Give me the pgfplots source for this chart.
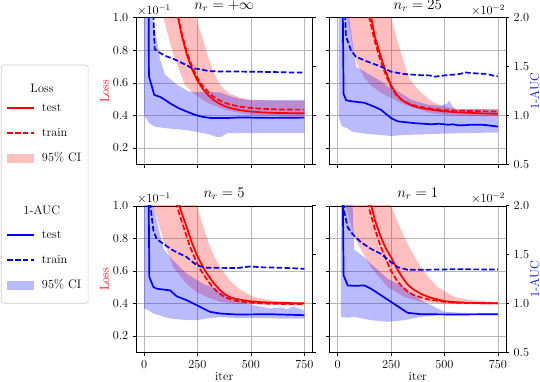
\RequirePackage{fix-cm}
\documentclass[border=0pt]{standalone}
\usepackage{pgfplots}
\pgfplotsset{compat=1.18}
\usepgfplotslibrary{fillbetween}
\definecolor{mred}{HTML}{FF0000}
\definecolor{mblue}{HTML}{0000FF}
\pgfplotsset{
  base/.style={scale only axis, width=176.3pt, height=146.5pt, anchor=south west,
    xmin=-37.5, xmax=787.5, xtick={0,250,500,750},
    tick align=outside, major tick length=3.5pt,
    tick style={black, line width=0.6pt}, axis line style={line width=0.6pt},
    yticklabel style={/pgf/number format/.cd, fixed, fixed zerofill, precision=1}},
  prim/.style={base, ymin=0.1, ymax=1.0, ytick={0.2,0.4,0.6,0.8,1.0},
    xtick pos=left, ytick pos=left, grid=major,
    grid style={line width=0.6pt, color=black!28},
    title style={font=\fontsize{14.8}{17}\selectfont, anchor=base, inner sep=0pt, yshift=2.4pt}},
  sec/.style={base, ymin=0.5, ymax=2.0, ytick={0.5,1.0,1.5,2.0},
    axis y line*=right, axis x line=none},
  lossl/.style={ylabel={Loss}, ylabel style={mred, at={(axis description cs:-0.178,0.5)}, anchor=center}},
  aucl/.style={ylabel={1-AUC}, ylabel style={mblue, at={(axis description cs:1.163,0.5)}, anchor=center}},
  xl/.style={xlabel={iter}, xlabel style={at={(axis description cs:0.5,0)}, anchor=base, inner sep=0pt, yshift=-28.6pt}},
  sc1/.style={extra description/.code={\node[anchor=base west, inner sep=0pt, xshift=0.8pt, yshift=3.3pt] at (0,1) {$\times10^{-1}$};}},
  sc2/.style={extra description/.code={\node[anchor=base east, inner sep=0pt, xshift=-0.8pt, yshift=3.3pt] at (1,1) {$\times10^{-2}$};}},
  rt/.style={mred, line width=1.7pt},
  rd/.style={mred, line width=1.7pt, dash pattern=on 5.5pt off 2.4pt},
  bt/.style={mblue, line width=1.7pt},
  bd/.style={mblue, line width=1.7pt, dash pattern=on 5.5pt off 2.4pt},
  rf/.style={fill=mred, fill opacity=0.25, draw=none},
  bf/.style={fill=mblue, fill opacity=0.27, draw=none},
  line key/.style={legend image code/.code={\draw[##1, sharp corners] (0pt,0pt) -- (27pt,0pt);}},
  patch key/.style={legend image code/.code={\path[##1, sharp corners, draw=none] (0pt,-4.5pt) rectangle (27pt,4.5pt);}},
}
\begin{document}
\fontsize{12.3}{14.8}\selectfont
\begin{tikzpicture}
%%%%%%%%%%%%%%%% Panel 1 : n_r = +inf
\begin{axis}[prim, at={(136pt,217.7pt)}, title={$n_r = +\infty$}, xticklabels={}, lossl, sc1]
\addplot[draw=none, name path=ua] coordinates {(225,1.1) (250,0.97) (275,0.87) (300,0.76) (325,0.67) (350,0.60) (375,0.56) (400,0.535) (450,0.51) (500,0.497) (600,0.49) (750,0.488)};
\addplot[draw=none, name path=la] coordinates {(60,1.2) (91,1.0) (137,0.774) (192,0.585) (239,0.528) (300,0.475) (380,0.435) (450,0.415) (500,0.405) (600,0.398) (750,0.395)};
\addplot[rf] fill between[of=ua and la];
\addplot[rt] coordinates {(125,1.29) (150,1.065) (175,0.899) (200,0.775) (225,0.683) (250,0.614) (275,0.563) (300,0.525) (325,0.496) (350,0.475) (375,0.459) (400,0.447) (450,0.432) (500,0.424) (550,0.419) (600,0.416) (650,0.415) (700,0.414) (750,0.414)};
\addplot[rd] coordinates {(125,1.3) (150,1.07) (175,0.91) (200,0.79) (225,0.70) (250,0.63) (275,0.58) (300,0.545) (325,0.515) (350,0.495) (375,0.48) (400,0.468) (450,0.454) (500,0.446) (550,0.441) (600,0.438) (650,0.437) (700,0.436) (750,0.436)};
\end{axis}
\begin{axis}[sec, at={(136pt,217.7pt)}, yticklabels={}]
\addplot[draw=none, name path=ub] coordinates {(0,4.0) (30,2.1) (67,1.69) (75,1.57) (98,1.42) (150,1.32) (208,1.246) (250,1.24) (300,1.24) (356,1.235) (400,1.2) (450,1.17) (500,1.155) (600,1.16) (750,1.16)};
\addplot[draw=none, name path=lb] coordinates {(0,1.0) (25,0.92) (50,0.886) (100,0.87) (150,0.86) (200,0.85) (250,0.83) (300,0.81) (340,0.78) (360,0.78) (390,0.82) (450,0.82) (500,0.82) (600,0.82) (750,0.82)};
\addplot[bf] fill between[of=ub and lb];
\addplot[bt] coordinates {(20,3.0) (23,1.40) (48,1.21) (75,1.19) (98,1.16) (125,1.12) (161,1.075) (200,1.04) (239,1.006) (275,0.985) (317,0.973) (400,0.975) (450,0.98) (500,0.978) (600,0.975) (750,0.978)};
\addplot[bd] coordinates {(33,2.6) (50,1.68) (75,1.64) (100,1.61) (145,1.572) (185,1.53) (223,1.486) (270,1.47) (300,1.455) (350,1.45) (400,1.45) (500,1.448) (600,1.445) (700,1.44) (750,1.44)};
\end{axis}
%%%%%%%%%%%%%%%% Panel 2 : n_r = 25
\begin{axis}[prim, at={(329.6pt,217.7pt)}, title={$n_r = 25$}, xticklabels={}, yticklabels={}]
\addplot[draw=none, name path=uc] coordinates {(225,1.1) (250,1.0) (275,0.88) (300,0.77) (328,0.65) (350,0.6) (390,0.54) (437,0.49) (484,0.46) (563,0.44) (650,0.44) (750,0.44)};
\addplot[draw=none, name path=lc] coordinates {(30,1.2) (47,1.0) (70,0.82) (90,0.72) (125,0.63) (160,0.58) (203,0.538) (250,0.508) (300,0.475) (359,0.446) (437,0.415) (500,0.405) (600,0.398) (750,0.395)};
\addplot[rf] fill between[of=uc and lc];
\addplot[rt] coordinates {(125,1.25) (150,1.05) (175,0.88) (200,0.77) (225,0.67) (250,0.585) (275,0.53) (300,0.495) (325,0.475) (350,0.46) (375,0.45) (400,0.443) (450,0.433) (500,0.425) (550,0.42) (600,0.417) (650,0.414) (700,0.412) (750,0.41)};
\addplot[rd] coordinates {(125,1.2) (150,0.99) (175,0.85) (200,0.74) (225,0.65) (250,0.575) (275,0.525) (300,0.495) (325,0.478) (350,0.465) (375,0.455) (400,0.45) (450,0.44) (500,0.433) (550,0.43) (600,0.428) (650,0.426) (700,0.425) (750,0.424)};
\end{axis}
\begin{axis}[sec, at={(329.6pt,217.7pt)}, aucl, sc2]
\addplot[draw=none, name path=ud] coordinates {(5,4.0) (40,2.3) (54,2.0) (86,1.5) (125,1.45) (203,1.35) (250,1.27) (281,1.25) (344,1.16) (422,1.11) (480,1.10) (510,1.12) (523,1.15) (535,1.10) (550,1.06) (600,1.065) (672,1.065) (750,1.06)};
\addplot[draw=none, name path=ld] coordinates {(5,0.98) (20,0.89) (45,0.87) (66,0.835) (125,0.815) (203,0.80) (250,0.79) (312,0.80) (437,0.81) (594,0.82) (750,0.825)};
\addplot[bf] fill between[of=ud and ld];
\addplot[bt] coordinates {(20,3.0) (28,1.22) (40,1.155) (66,1.145) (125,1.13) (160,1.1) (203,1.058) (250,0.973) (281,0.94) (359,0.921) (437,0.91) (475,0.915) (516,0.905) (540,0.91) (560,0.90) (594,0.90) (620,0.905) (672,0.905) (700,0.90) (750,0.886)};
\addplot[bd] coordinates {(25,2.6) (39,1.81) (62,1.67) (86,1.6) (141,1.55) (203,1.5) (250,1.448) (312,1.424) (375,1.414) (430,1.41) (453,1.397) (516,1.414) (560,1.42) (600,1.44) (650,1.43) (700,1.425) (740,1.40) (750,1.40)};
\end{axis}
%%%%%%%%%%%%%%%% Panel 3 : n_r = 5
\begin{axis}[prim, at={(136pt,29.7pt)}, title={$n_r = 5$}, lossl, sc1, xl]
\addplot[draw=none, name path=ue] coordinates {(225,1.1) (247,1.0) (275,0.88) (300,0.78) (325,0.70) (356,0.622) (400,0.545) (434,0.5) (475,0.465) (512,0.44) (590,0.42) (650,0.413) (750,0.408)};
\addplot[draw=none, name path=le] coordinates {(30,1.1) (44,1.0) (91,0.786) (137,0.62) (200,0.52) (247,0.47) (294,0.44) (356,0.41) (434,0.398) (750,0.388)};
\addplot[rf] fill between[of=ue and le];
\addplot[rt] coordinates {(150,1.07) (175,0.96) (200,0.867) (225,0.77) (250,0.69) (275,0.625) (300,0.573) (325,0.527) (350,0.49) (375,0.46) (400,0.44) (425,0.43) (450,0.423) (500,0.413) (550,0.408) (600,0.405) (650,0.403) (700,0.402) (750,0.402)};
\addplot[rd] coordinates {(140,1.07) (165,0.95) (190,0.85) (215,0.75) (240,0.67) (265,0.605) (290,0.555) (315,0.51) (340,0.475) (365,0.45) (390,0.432) (425,0.418) (450,0.412) (500,0.405) (550,0.40) (600,0.398) (650,0.397) (700,0.396) (750,0.396)};
\end{axis}
\begin{axis}[sec, at={(136pt,29.7pt)}, yticklabels={}]
\addplot[draw=none, name path=uf] coordinates {(0,4.0) (30,2.4) (44,2.0) (91,1.56) (122,1.474) (200,1.304) (278,1.2) (356,1.134) (434,1.033) (512,0.982) (591,0.948) (640,0.96) (669,0.94) (700,0.97) (720,0.95) (750,0.931)};
\addplot[draw=none, name path=lf] coordinates {(0,0.95) (20,0.93) (44,0.897) (122,0.846) (200,0.83) (250,0.83) (300,0.85) (356,0.86) (434,0.85) (550,0.85) (650,0.845) (750,0.846)};
\addplot[bf] fill between[of=uf and lf];
\addplot[bt] coordinates {(18,3.0) (25,1.27) (44,1.168) (59,1.151) (122,1.134) (153,1.073) (200,1.033) (247,0.982) (309,0.914) (356,0.897) (434,0.887) (590,0.89) (750,0.88)};
\addplot[bd] coordinates {(22,2.6) (30,2.0) (44,1.745) (59,1.66) (91,1.61) (137,1.542) (200,1.474) (247,1.39) (294,1.365) (356,1.365) (434,1.362) (497,1.379) (550,1.37) (600,1.368) (650,1.365) (700,1.36) (750,1.355)};
\end{axis}
%%%%%%%%%%%%%%%% Panel 4 : n_r = 1
\begin{axis}[prim, at={(329.6pt,29.7pt)}, title={$n_r = 1$}, yticklabels={}, xl]
\addplot[draw=none, name path=ug] coordinates {(225,1.1) (250,1.0) (275,0.92) (312,0.806) (350,0.71) (390,0.622) (425,0.56) (469,0.5) (547,0.44) (625,0.42) (750,0.408)};
\addplot[draw=none, name path=lg] coordinates {(25,1.1) (39,1.0) (78,0.806) (156,0.622) (234,0.5) (312,0.44) (390,0.41) (500,0.398) (750,0.392)};
\addplot[rf] fill between[of=ug and lg];
\addplot[rt] coordinates {(125,1.2) (150,1.04) (175,0.91) (200,0.815) (225,0.74) (250,0.684) (275,0.62) (300,0.565) (325,0.52) (350,0.49) (390,0.459) (425,0.44) (450,0.43) (500,0.414) (550,0.408) (600,0.405) (650,0.403) (700,0.402) (750,0.402)};
\addplot[rd] coordinates {(125,1.12) (150,0.97) (175,0.855) (200,0.755) (225,0.675) (250,0.6) (275,0.545) (300,0.505) (325,0.475) (350,0.455) (390,0.437) (425,0.425) (450,0.42) (500,0.41) (550,0.405) (600,0.403) (650,0.402) (700,0.401) (750,0.401)};
\end{axis}
\begin{axis}[sec, at={(329.6pt,29.7pt)}, aucl, sc2]
\addplot[draw=none, name path=uh] coordinates {(15,4.0) (70,2.0) (78,1.55) (125,1.474) (156,1.406) (234,1.253) (312,1.168) (390,1.033) (500,0.914) (625,0.9) (750,0.897)};
\addplot[draw=none, name path=lh] coordinates {(15,0.863) (47,0.855) (78,0.863) (156,0.829) (234,0.812) (312,0.829) (390,0.863) (469,0.88) (750,0.88)};
\addplot[bf] fill between[of=uh and lh];
\addplot[bt] coordinates {(20,3.0) (28,1.287) (47,1.185) (78,1.18) (125,1.185) (156,1.151) (203,1.084) (250,1.016) (297,0.948) (328,0.904) (390,0.89) (547,0.887) (750,0.89)};
\addplot[bd] coordinates {(20,2.6) (30,1.95) (47,1.78) (70,1.71) (109,1.627) (156,1.559) (203,1.508) (250,1.423) (281,1.372) (328,1.345) (390,1.345) (547,1.35) (750,1.348)};
\end{axis}
%%%%%%%%%%%%%%%% Legend
\begin{axis}[hide axis, scale only axis, width=540pt, height=382pt, at={(0pt,0pt)}, anchor=south west,
  xmin=0, xmax=540, ymin=0, ymax=382,
  legend style={at={(axis description cs:0.00185,0.8305)}, anchor=north west,
    draw=black!20, rounded corners=2.5pt, fill=white, line width=0.6pt,
    inner xsep=5pt, inner ysep=10pt, row sep=10.4pt,
    nodes={inner sep=2pt, text height=8.6pt, text depth=2.4pt},
    /tikz/every odd column/.append style={column sep=5pt}},
  legend cell align=left]
\addlegendimage{empty legend}
\addlegendentry{\hspace*{-11.5pt}\raisebox{-6.5pt}{Loss}}
\addlegendimage{line key, draw=mred, solid, line width=1.7pt}
\addlegendentry{test}
\addlegendimage{line key, draw=mred, line width=1.7pt, dash pattern=on 5.5pt off 2.4pt}
\addlegendentry{train}
\addlegendimage{patch key, fill=mred, fill opacity=0.25}
\addlegendentry{95\% CI}
\addlegendimage{empty legend}
\addlegendentry{}
\addlegendimage{empty legend}
\addlegendentry{\hspace*{-18.5pt}\raisebox{-1.5pt}{1-AUC}}
\addlegendimage{line key, draw=mblue, solid, line width=1.7pt}
\addlegendentry{test}
\addlegendimage{line key, draw=mblue, line width=1.7pt, dash pattern=on 5.5pt off 2.4pt}
\addlegendentry{train}
\addlegendimage{patch key, fill=mblue, fill opacity=0.27}
\addlegendentry{95\% CI}
\end{axis}
\pgfresetboundingbox
\path (0pt,0pt) rectangle (540pt,382pt);
\end{tikzpicture}
\end{document}
